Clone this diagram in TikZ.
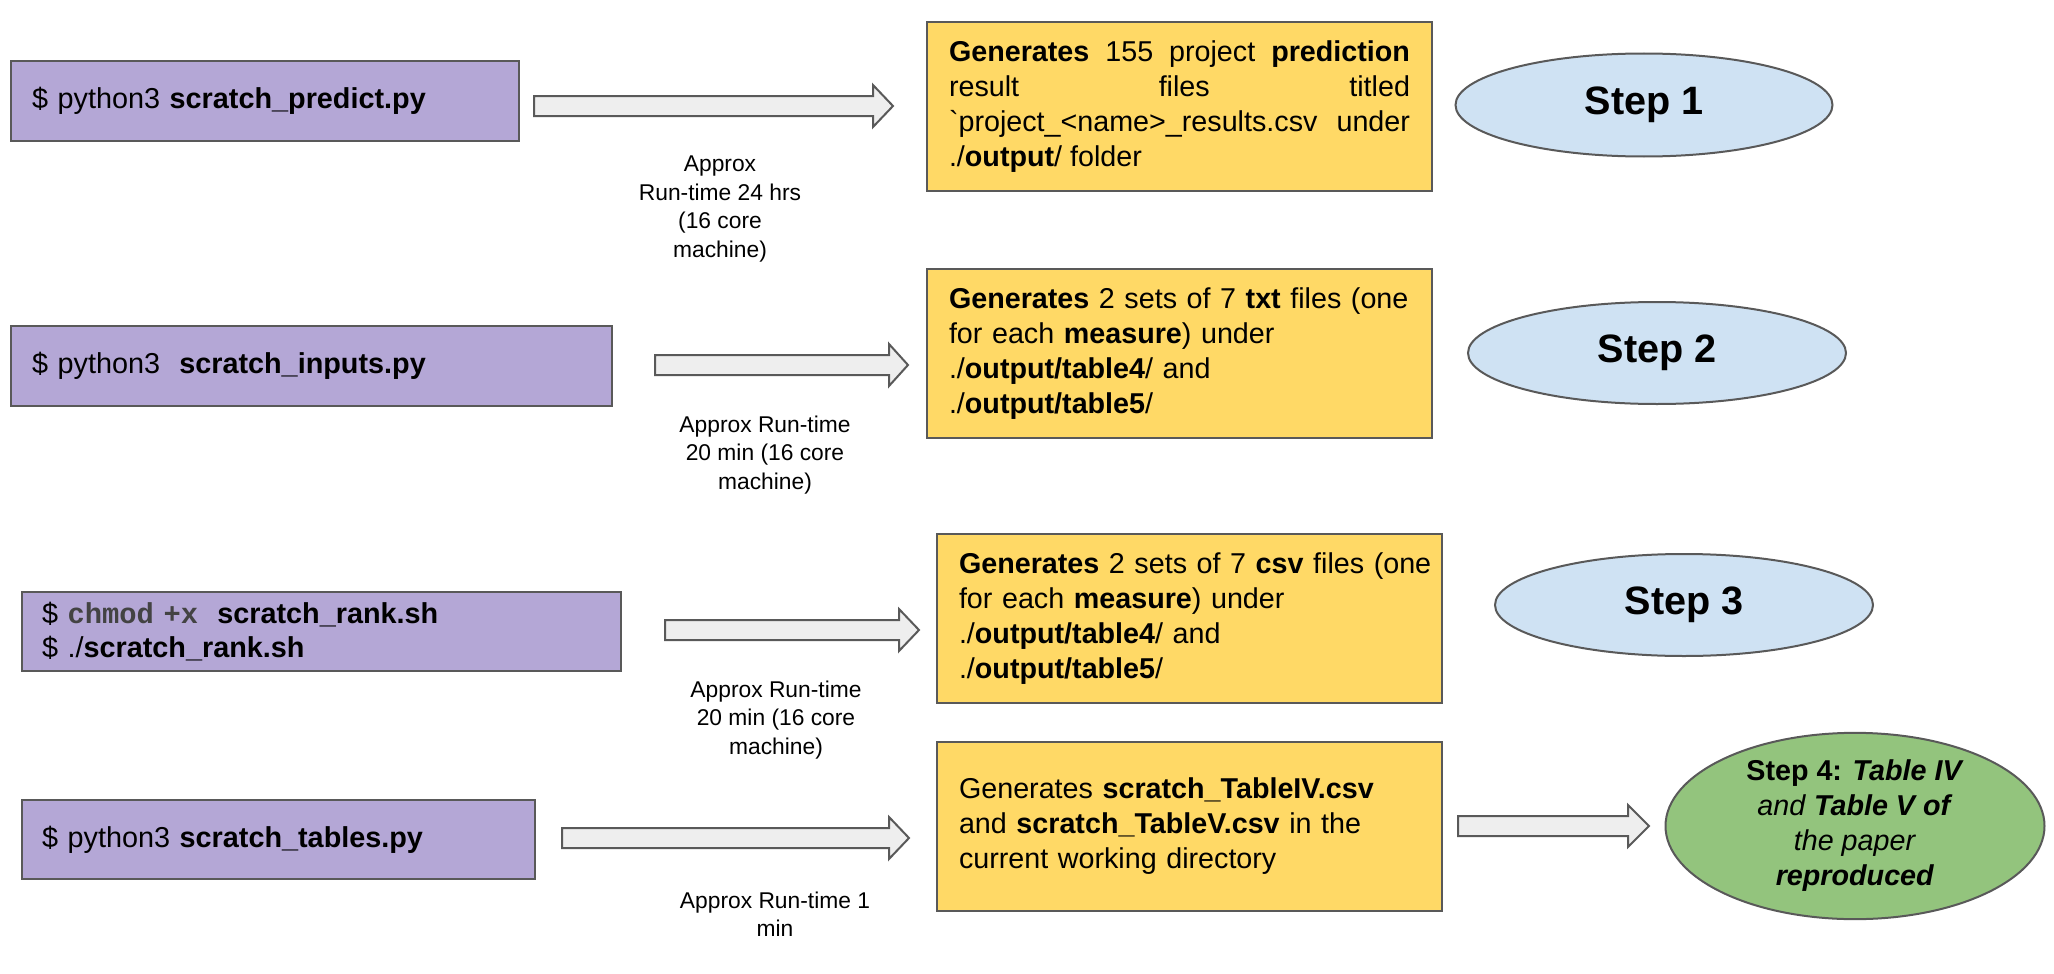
\documentclass[tikz,border=0pt]{standalone}
\usepackage{fontspec}
\setmainfont{Liberation Sans}
\newfontfamily\codefont{Liberation Mono}
\usetikzlibrary{calc,shapes.geometric}
\definecolor{cmdfill}{HTML}{B4A7D6}
\definecolor{outfill}{HTML}{FFD966}
\definecolor{stepfill}{HTML}{CFE2F3}
\definecolor{finalfill}{HTML}{93C47D}
\definecolor{edgegray}{HTML}{595959}
\definecolor{arrowfill}{HTML}{EEEEEE}
\definecolor{codegray}{HTML}{434343}
\tikzset{
  cmdbox/.style={draw=edgegray, line width=2pt, fill=cmdfill, rectangle, inner ysep=0pt, align=left,
    font=\fontsize{28.8}{34}\selectfont, anchor=north west},
  outbox/.style={draw=edgegray, line width=2pt, fill=outfill, rectangle, inner xsep=22pt, inner ysep=0pt,
    text width=461pt, minimum width=505pt, minimum height=169pt, font=\fontsize{28.7}{35}\selectfont, anchor=north west},
  stepell/.style={draw=edgegray, line width=2pt, fill=stepfill, ellipse, inner sep=0pt,
    font=\bfseries\fontsize{39.6}{44}\selectfont},
  runlabel/.style={align=center, font=\fontsize{22.8}{28.5}\selectfont, inner sep=0pt},
  blockarrow/.style={draw=edgegray, line width=2pt, fill=arrowfill, line join=miter},
}
\newcommand\blkarrow[3]{% start, end, head length
  \draw[blockarrow] let \p1=(#1), \p2=(#2) in
    (\x1,\y1+10pt) -- (\x2-#3,\y1+10pt) -- (\x2-#3,\y1+21pt) -- (\x2,\y1)
    -- (\x2-#3,\y1-21pt) -- (\x2-#3,\y1-10pt) -- (\x1,\y1-10pt) -- cycle;}
\begin{document}
\begin{tikzpicture}[x=1pt,y=-1pt]
\useasboundingbox (0,0) rectangle (2054,974);

% command boxes
\node[cmdbox, minimum width=507pt, minimum height=80pt, text width=466pt, inner xsep=21pt] (c1) at (10,60)
  {\$ python3 \textbf{scratch\_predict.py}};
\node[cmdbox, minimum width=600pt, minimum height=80pt, text width=559pt, inner xsep=21pt] (c2) at (10,325)
  {\$ python3\ \ \textbf{scratch\_inputs.py}};
\node[cmdbox, minimum width=599pt, minimum height=79pt, text width=559pt, inner xsep=20pt] (c3) at (21,591)
  {\$ {\codefont\bfseries\color{codegray}chmod +x}\ \ \textbf{scratch\_rank.sh}\\
   \$ ./\textbf{scratch\_rank.sh}};
\node[cmdbox, minimum width=513pt, minimum height=79pt, text width=473pt, inner xsep=20pt] (c4) at (21,799)
  {\$ python3 \textbf{scratch\_tables.py}};

% output boxes
\node[outbox, align=justify] (o1) at (926,21)
  {\textbf{Generates} 155 project \textbf{prediction}\linebreak
   result files titled\linebreak
   \textasciigrave project\_<name>\_results.csv under\linebreak
   ./\textbf{output}/ folder};
\node[outbox, align=left] (o2) at (926,268)
  {\textbf{Generates} 2 sets of 7 \textbf{txt} files (one\\
   for each \textbf{measure}) under\\
   ./\textbf{output/table4}/ and\\
   ./\textbf{output/table5}/};
\node[outbox, align=left] (o3) at (936,533)
  {\mbox{\textbf{Generates} 2 sets of 7 \textbf{csv} files (one}\\
   for each \textbf{measure}) under\\
   ./\textbf{output/table4}/ and\\
   ./\textbf{output/table5}/};
\node[outbox, align=left] (o4) at (936,741)
  {Generates \textbf{scratch\_TableIV.csv}\\
   and \textbf{scratch\_TableV.csv} in the\\
   current working directory};

% step ellipses
\node[stepell, minimum width=377pt, minimum height=103pt] (s1) at (1644,105) {Step 1};
\node[stepell, minimum width=378pt, minimum height=102pt] (s2) at (1657,353) {Step 2};
\node[stepell, minimum width=378pt, minimum height=102pt] (s3) at (1684,605) {Step 3};
\node[draw=edgegray, line width=2pt, fill=finalfill, ellipse, inner sep=0pt,
      minimum width=379pt, minimum height=163pt, align=center,
      font=\fontsize{28.7}{35}\selectfont] (s4) at (1855,826)
  {\textbf{Step 4:} \textbf{\textit{Table IV}}\\
   \textit{and} \textbf{\textit{Table V of}}\\
   \textit{the paper}\\
   \textbf{\textit{reproduced}}};

% run-time labels
\node[runlabel] (r1) at (720,209) {Approx\\Run-time 24 hrs\\(16 core\\machine)};
\node[runlabel] (r2) at (765,455) {Approx Run-time\\20 min (16 core\\machine)};
\node[runlabel] (r3) at (776,720) {Approx Run-time\\20 min (16 core\\machine)};
\node[runlabel] (r4) at (775,914) {Approx Run-time 1\\min};

% arrow end points
\coordinate (a1s) at (534,106); \coordinate (a1e) at (893,106);
\coordinate (a2s) at (655,365); \coordinate (a2e) at (908,365);
\coordinate (a3s) at (665,630); \coordinate (a3e) at (919,630);
\coordinate (a4s) at (562,838); \coordinate (a4e) at (909,838);
\coordinate (a5s) at (1458,826); \coordinate (a5e) at (1649,826);
\blkarrow{a1s}{a1e}{20pt}
\blkarrow{a2s}{a2e}{19pt}
\blkarrow{a3s}{a3e}{20pt}
\blkarrow{a4s}{a4e}{20pt}
\blkarrow{a5s}{a5e}{21pt}
\end{tikzpicture}
\end{document}
